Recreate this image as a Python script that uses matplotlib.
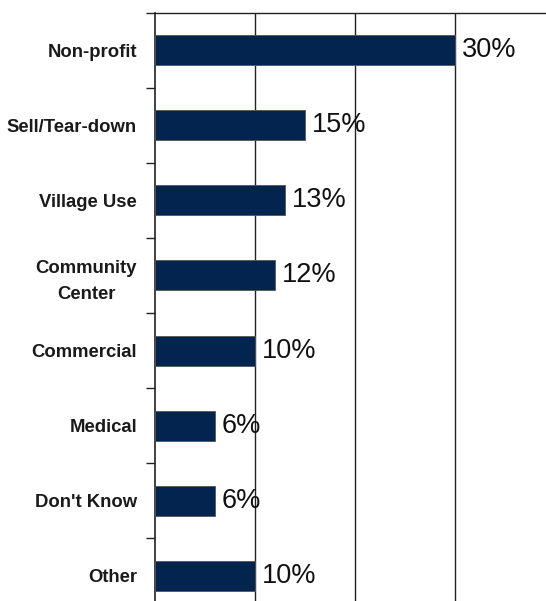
import matplotlib
matplotlib.use("Agg")
import matplotlib.pyplot as plt
import numpy as np

categories = ["Non-profit", "Sell/Tear-down", "Village Use", "Community\nCenter",
              "Commercial", "Medical", "Don't Know", "Other"]
values = [30, 15, 13, 12, 10, 6, 6, 10]
value_labels = ["30%", "15%", "13%", "12%", "10%", "6%", "6%", "10%"]

W, H = 546, 601
fig = plt.figure(figsize=(W / 100, H / 100), dpi=100)
fig.patch.set_facecolor("white")

left_px, top_px, bottom_px, xmax = 155, 12.5, 613.5, 40
ax = fig.add_axes([left_px / W, 1 - bottom_px / H, 400 / W, (bottom_px - top_px) / H])

y = np.arange(len(categories))
ax.barh(y, values, height=0.4, color="#03244F", edgecolor="#555555", linewidth=0.6, zorder=3)

ax.set_xlim(0, xmax)
ax.set_ylim(len(categories) - 0.5, -0.5)

for xv in [10, 20, 30]:
    ax.axvline(xv, color="#222222", linewidth=1.0, zorder=1)

label_font = ["Liberation Sans", "DejaVu Sans"]
for yi, v, t in zip(y, values, value_labels):
    ax.text(v + 0.7, yi, t, va="center", ha="left", fontsize=19.5,
            family=label_font, color="#111111", zorder=4)

ax.set_yticks(y)
ax.set_yticklabels(categories, fontsize=13.3, fontweight="bold", family=label_font,
                   color="#1a1a1a", linespacing=1.65)
for lbl in ax.get_yticklabels():
    lbl.set_multialignment("center")
ax.set_yticks(np.arange(len(categories) + 1) - 0.5, minor=True)
ax.tick_params(axis="y", which="major", length=0, pad=13)
ax.tick_params(axis="y", which="minor", length=6.5, width=1.0, color="#222222", direction="out")
ax.set_xticks([])

for s in ["right", "bottom"]:
    ax.spines[s].set_visible(False)
ax.spines["left"].set_color("#222222")
ax.spines["top"].set_color("#222222")
ax.spines["left"].set_linewidth(1.2)
ax.spines["top"].set_linewidth(1.0)

fig.savefig("out.png", dpi=100, facecolor="white")
